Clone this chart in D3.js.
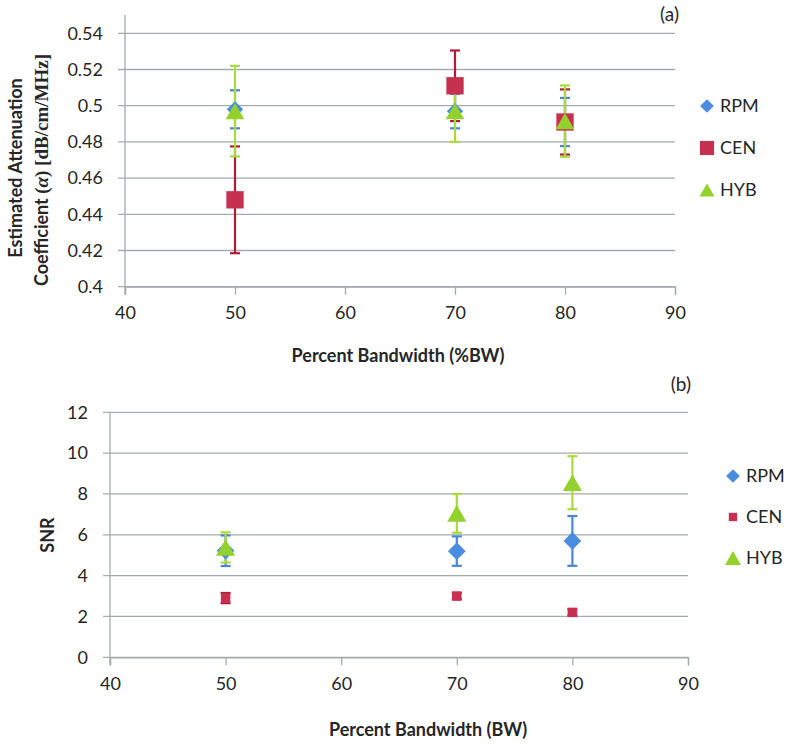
<!DOCTYPE html>
<html><head><meta charset="utf-8">
<script src="https://cdn.jsdelivr.net/npm/d3@7"></script>
<style>body{margin:0;background:#fff}svg{display:block}</style>
</head><body>
<svg id="c" width="793" height="748"></svg>
<script>
// ---------- data ----------
const xTicks = [40, 50, 60, 70, 80, 90];
const bandwidth = [50, 70, 80];
const seriesNames = ["RPM", "CEN", "HYB"];

const attTicks = [0.4, 0.42, 0.44, 0.46, 0.48, 0.5, 0.52, 0.54];
const attTickLabels = ["0.4", "0.42", "0.44", "0.46", "0.48", "0.5", "0.52", "0.54"];
const attRPM = [0.498, 0.497, 0.491];
const attRPMErr = [0.0105, 0.0095, 0.0133];
const attCEN = [0.448, 0.511, 0.491];
const attCENErr = [0.0295, 0.0195, 0.018];
const attHYB = [0.497, 0.497, 0.4915];
const attHYBErr = [0.025, 0.017, 0.0197];

const snrTicks = [0, 2, 4, 6, 8, 10, 12];
const snrRPM = [5.22, 5.2, 5.7];
const snrRPMErr = [0.75, 0.72, 1.22];
const snrCEN = [2.9, 3.0, 2.2];
const snrCENErr = [0.25, 0.15, 0.15];
const snrHYB = [5.38, 7.05, 8.55];
const snrHYBErr = [0.74, 0.95, 1.3];

// ---------- styles ----------
const FONT = "Lato, 'Open Sans', sans-serif";
const gridCol = "#a3abae";
const textCol = "#262626";
const markerCol = {RPM: "#4a8de0", CEN: "#c7304e", HYB: "#93d12d"};
const errCol = {RPM: "#4a86d4", CEN: "#b01e36", HYB: "#a9da3e"};

const svg = d3.select("#c");

function panel(cfg) {
  const x = d3.scaleLinear().domain([40, 90]).range(cfg.xr);
  const y = d3.scaleLinear().domain(cfg.yd).range(cfg.yr);
  const g = svg.append("g");

  // gridlines
  g.selectAll(".grid").data(cfg.yTicks).enter().append("line")
    .attr("x1", cfg.xr[0] - 7).attr("x2", cfg.xr[1])
    .attr("y1", d => y(d)).attr("y2", d => y(d))
    .attr("stroke", gridCol).attr("stroke-width", 1.3);
  // y axis line
  g.append("line").attr("x1", cfg.xr[0]).attr("x2", cfg.xr[0])
    .attr("y1", cfg.yAxisTop).attr("y2", cfg.yr[0] + 8)
    .attr("stroke", gridCol).attr("stroke-width", 1.3);

  // y axis labels
  const yAxis = d3.axisLeft(y).tickValues(cfg.yTicks)
    .tickFormat((d, i) => cfg.yLabels[i]).tickSize(0).tickPadding(22);
  const ya = g.append("g").attr("transform", `translate(${cfg.xr[0]},0)`).call(yAxis);
  ya.select(".domain").remove();
  ya.selectAll("text").attr("font-family", FONT).attr("font-size", 18).attr("fill", textCol);

  // x axis
  const xAxis = d3.axisBottom(x).tickValues(xTicks).tickSize(8).tickPadding(12);
  const xa = g.append("g").attr("transform", `translate(0,${cfg.yr[0]})`).call(xAxis);
  xa.select(".domain").attr("stroke", gridCol).attr("stroke-width", 1.3);
  xa.selectAll(".tick line").attr("stroke", gridCol).attr("stroke-width", 1.3);
  xa.selectAll("text").attr("font-family", FONT).attr("font-size", 18).attr("fill", textCol);

  // x title
  g.append("text").attr("x", cfg.xTitleX).attr("y", cfg.xTitleY)
    .attr("text-anchor", "middle").attr("font-family", FONT).attr("font-weight", "bold")
    .attr("font-size", 18).attr("fill", textCol).text(cfg.xTitle);

  // panel tag
  g.append("text").attr("x", cfg.tag[0]).attr("y", cfg.tag[1]).attr("text-anchor", "end")
    .attr("font-family", FONT).attr("font-size", 19).attr("fill", textCol).text(cfg.tagText);

  const series = [
    {name: "RPM", v: cfg.rpm, e: cfg.rpmErr},
    {name: "CEN", v: cfg.cen, e: cfg.cenErr},
    {name: "HYB", v: cfg.hyb, e: cfg.hybErr}
  ];
  // error bars
  series.forEach(s => {
    const eg = g.append("g");
    const pts = bandwidth.map((b, i) => ({b, v: s.v[i], e: s.e[i]}));
    eg.selectAll("line.v").data(pts).enter().append("line")
      .attr("x1", d => x(d.b)).attr("x2", d => x(d.b))
      .attr("y1", d => y(d.v - d.e)).attr("y2", d => y(d.v + d.e))
      .attr("stroke", errCol[s.name]).attr("stroke-width", 2.2);
    [-1, 1].forEach(sg => {
      eg.selectAll("line.c" + sg).data(pts).enter().append("line")
        .attr("x1", d => x(d.b) - 5).attr("x2", d => x(d.b) + 5)
        .attr("y1", d => y(d.v + sg * d.e)).attr("y2", d => y(d.v + sg * d.e))
        .attr("stroke", errCol[s.name]).attr("stroke-width", 2.2);
    });
  });
  // markers
  series.forEach(s => {
    const sym = cfg.sym[s.name];
    const pts = bandwidth.map((b, i) => ({b, v: s.v[i]}));
    g.selectAll(null).data(pts).enter().append("path")
      .attr("d", d3.symbol().type(sym.type).size(sym.size)())
      .attr("transform", d => `translate(${x(d.b)},${y(d.v) + (sym.dy || 0)})`)
      .attr("fill", markerCol[s.name]);
  });

  // legend
  seriesNames.forEach((n, i) => {
    const ly = cfg.legY[i];
    const sym = cfg.legSym[n];
    g.append("path").attr("d", d3.symbol().type(sym.type).size(sym.size)())
      .attr("transform", `translate(${cfg.legX},${ly + (sym.dy || 0)})`)
      .attr("fill", markerCol[n]);
    g.append("text").attr("x", cfg.legX + 13).attr("y", ly).attr("dy", "0.35em")
      .attr("font-family", FONT).attr("font-size", 18).attr("fill", textCol).text(n);
  });
  return g;
}

function triDy(size) { return Math.sqrt(size / (Math.sqrt(3) * 3)) / 2; }

panel({
  xr: [125, 675], yd: [0.4, 0.54], yr: [286.7, 33.3], yAxisTop: 15,
  yTicks: attTicks, yLabels: attTickLabels,
  xTitle: "Percent Bandwidth (%BW)", xTitleX: 398, xTitleY: 362,
  tag: [679, 21], tagText: "(a)",
  rpm: attRPM, rpmErr: attRPMErr, cen: attCEN, cenErr: attCENErr, hyb: attHYB, hybErr: attHYBErr,
  sym: {
    RPM: {type: d3.symbolDiamond2, size: 170},
    CEN: {type: d3.symbolSquare, size: 300},
    HYB: {type: d3.symbolTriangle, size: 150, dy: triDy(150)}
  },
  legX: 707, legY: [106, 148, 190],
  legSym: {
    RPM: {type: d3.symbolDiamond2, size: 120},
    CEN: {type: d3.symbolSquare, size: 200},
    HYB: {type: d3.symbolTriangle, size: 100, dy: triDy(100)}
  }
});

panel({
  xr: [110, 688], yd: [0, 12], yr: [657.3, 412.3], yAxisTop: 412.3,
  yTicks: snrTicks, yLabels: snrTicks.map(String),
  xTitle: "Percent Bandwidth (BW)", xTitleX: 428, xTitleY: 736,
  tag: [691, 391], tagText: "(b)",
  rpm: snrRPM, rpmErr: snrRPMErr, cen: snrCEN, cenErr: snrCENErr, hyb: snrHYB, hybErr: snrHYBErr,
  sym: {
    RPM: {type: d3.symbolDiamond2, size: 200},
    CEN: {type: d3.symbolSquare, size: 90},
    HYB: {type: d3.symbolTriangle, size: 160, dy: triDy(160)}
  },
  legX: 733, legY: [476, 517, 558],
  legSym: {
    RPM: {type: d3.symbolDiamond2, size: 120},
    CEN: {type: d3.symbolSquare, size: 70},
    HYB: {type: d3.symbolTriangle, size: 110, dy: triDy(110)}
  }
});

// y titles
svg.append("text").attr("transform", "translate(22,168) rotate(-90)")
  .attr("text-anchor", "middle").attr("font-family", FONT).attr("font-weight", "bold")
  .attr("font-size", 18).attr("fill", textCol).text("Estimated Attenuation");
const yt2 = svg.append("text").attr("transform", "translate(48,170) rotate(-90)")
  .attr("text-anchor", "middle").attr("font-family", FONT).attr("font-weight", "bold")
  .attr("font-size", 18).attr("fill", textCol);
yt2.append("tspan").text("Coefficient ");
yt2.append("tspan").attr("font-family", "'Liberation Serif', serif").attr("font-size", 19).text("(");
yt2.append("tspan").attr("font-family", "'Liberation Serif', serif").attr("font-size", 19).attr("font-style", "italic").text("α");
yt2.append("tspan").attr("font-family", "'Liberation Serif', serif").attr("font-size", 19).text(") [dB/cm/MHz]");

svg.append("text").attr("transform", "translate(54,535) rotate(-90)")
  .attr("text-anchor", "middle").attr("font-family", FONT).attr("font-weight", "bold")
  .attr("font-size", 18).attr("fill", textCol).text("SNR");
</script>
</body></html>
